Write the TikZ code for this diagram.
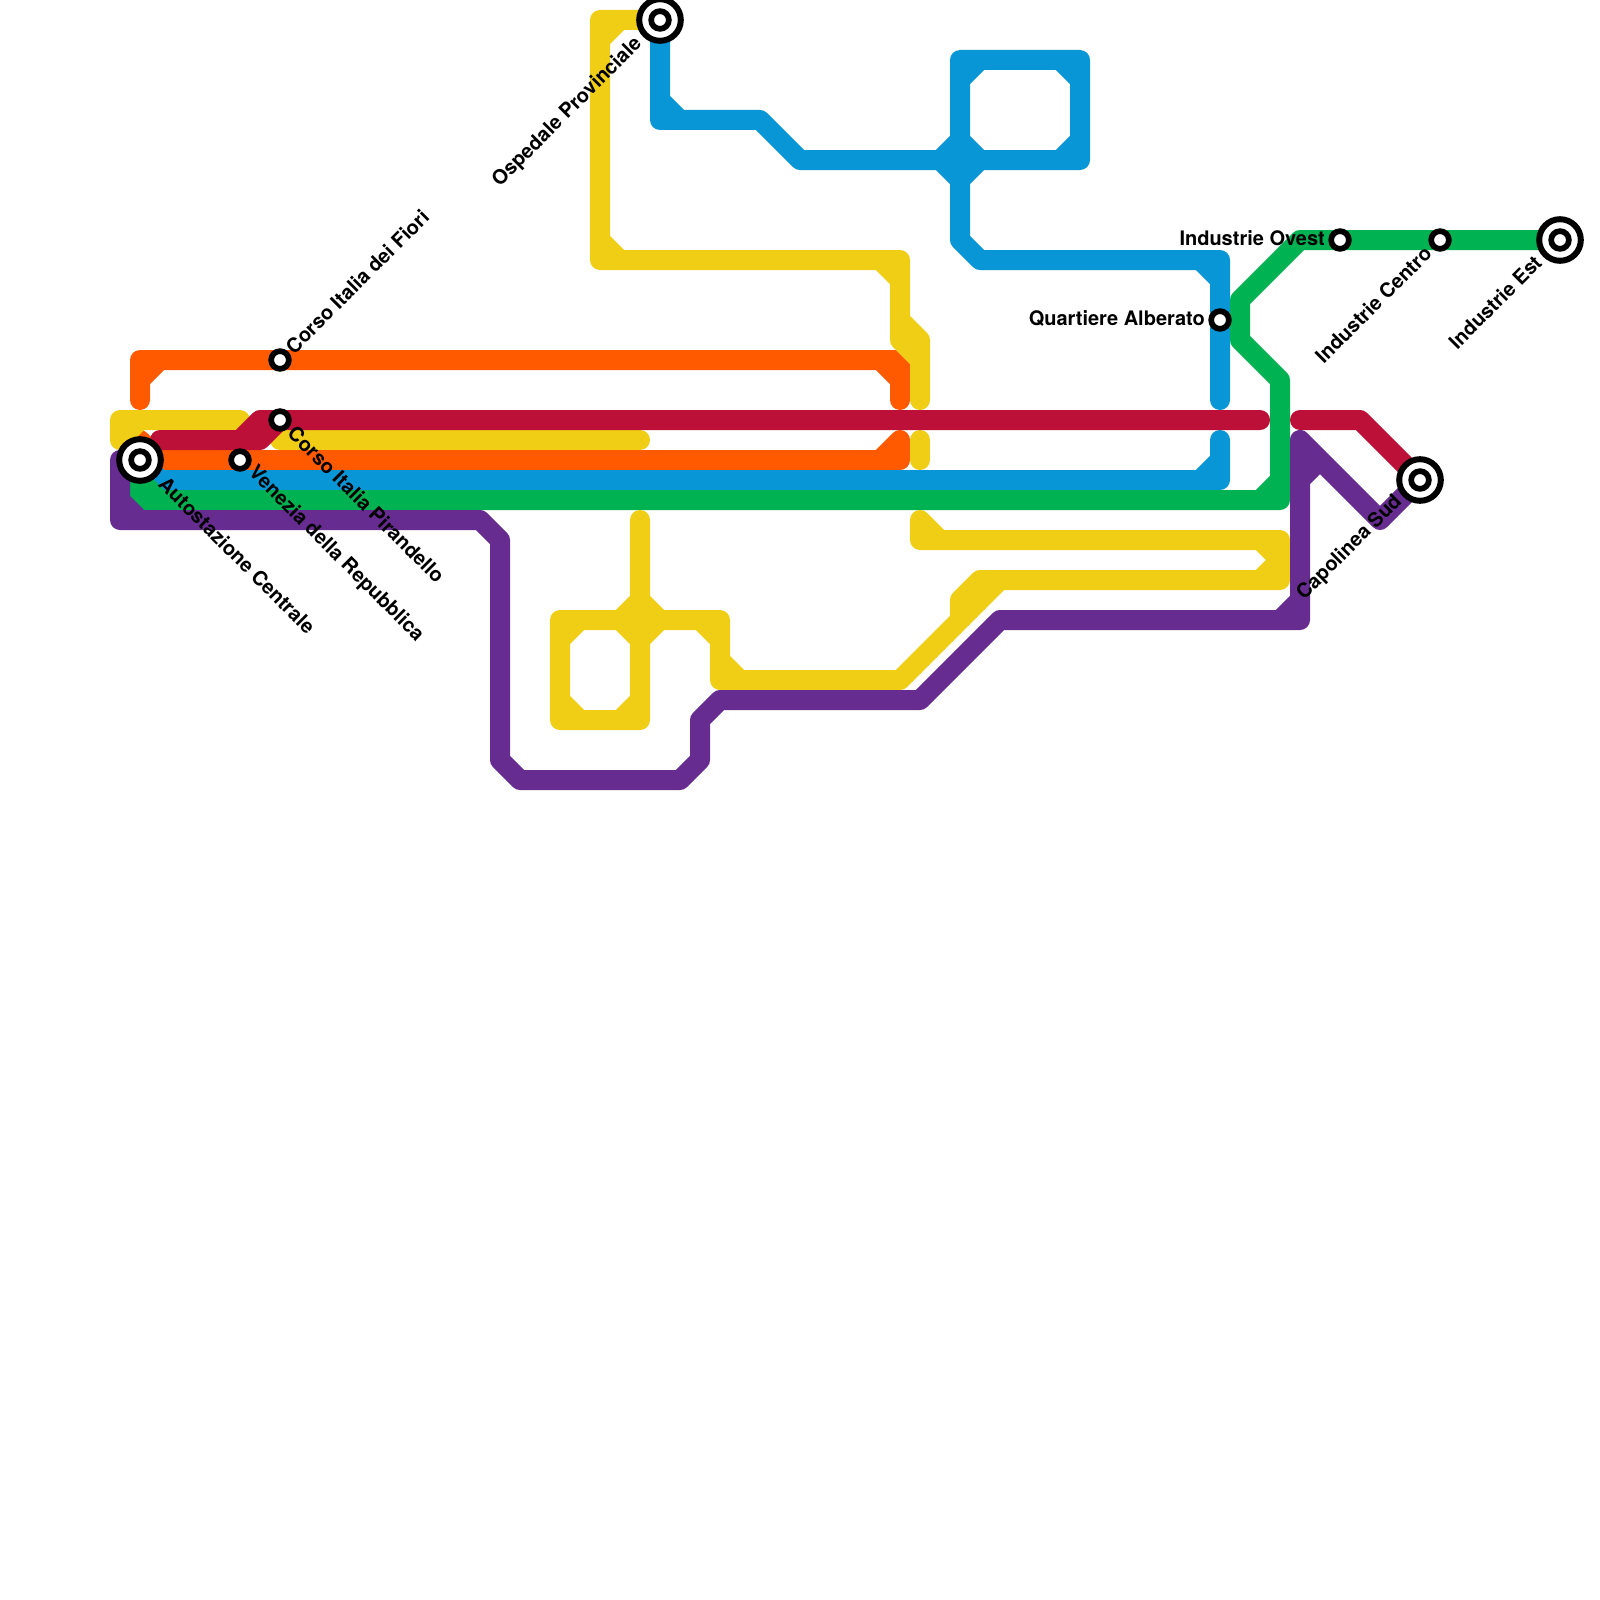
\documentclass[tikz,border=0pt]{standalone}
\usepackage{fontspec}
\setmainfont{TeX Gyre Heros}
\definecolor{myellow}{HTML}{F0CE15}
\definecolor{morange}{HTML}{FF5A00}
\definecolor{mred}{HTML}{BD1038}
\definecolor{mblue}{HTML}{0896D7}
\definecolor{mgreen}{HTML}{00B251}
\definecolor{mpurple}{HTML}{662C90}
\tikzset{
  metroline/.style={line width=20pt,line cap=round,line join=round},
  stn/.style={circle,draw=black,fill=white,line width=5.7pt,minimum size=17.7pt,inner sep=0pt},
  term/.style={circle,draw=black,fill=white,line width=6pt,minimum size=41.6pt,inner sep=0pt},
  lab/.style={font=\fontsize{20}{24}\selectfont\bfseries,text=black,inner sep=0pt}
}
\begin{document}
\begin{tikzpicture}[x=1pt,y=-1pt]
\useasboundingbox (0,0) rectangle (1600,1600);
\fill[white] (0,0) rectangle (1600,1600);
\coordinate (c-auto) at (140,460);
\coordinate (c-venezia) at (240,460);
\coordinate (c-pirandello) at (280,420);
\coordinate (c-fiori) at (280,360);
\coordinate (c-ospedale) at (660,20);
\coordinate (c-alberato) at (1220,320);
\coordinate (c-ovest) at (1340,240);
\coordinate (c-centro) at (1440,240);
\coordinate (c-est) at (1560,240);
\coordinate (c-sud) at (1420,480);
% orange
\draw[metroline,morange] (140,400)--(140,360)--(900,360)--(900,400) (160,360)--(140,380) (880,360)--(900,380);
\draw[metroline,morange] (900,440)--(900,460)--(140,460)--(140,440) (880,460)--(900,440) (140,440)--(160,460);
% blue
\draw[metroline,mblue] (c-ospedale)--(660,120)--(760,120)--(800,160)--(1080,160)--(1080,60)--(960,60)--(960,240)--(980,260)--(1220,260)--(1220,400)
  (660,100)--(680,120) (1060,160)--(1080,140) (1080,80)--(1060,60) (980,60)--(960,80)
  (940,160)--(960,140)--(980,160)--(960,180)--cycle (1200,260)--(1220,280);
\draw[metroline,mblue] (c-auto)--(160,480)--(1220,480)--(1220,440) (1200,480)--(1220,460);
% green
\draw[metroline,mgreen] (c-est)--(1300,240)--(1240,300)--(1240,340)--(1280,380)--(1280,500)--(140,500)--(140,480)
  (1260,500)--(1280,480) (140,480)--(160,500);
% yellow
\draw[metroline,myellow] (c-ospedale)--(600,20)--(600,260)--(900,260)--(900,340)--(920,360)--(920,400)
  (620,20)--(600,40) (600,240)--(620,260) (880,260)--(900,280) (900,320)--(920,340)--(920,360);
\draw[metroline,myellow] (920,440)--(920,460);
\draw[metroline,myellow] (920,520)--(920,540)--(1280,540)--(1280,580)--(980,580)--(960,600)--(960,620)--(900,680)--(720,680)--(720,620)--(560,620)--(560,720)--(640,720)--(640,520)
  (920,520)--(940,540) (1260,540)--(1280,560)--(1260,580) (1000,580)--(960,620) (740,680)--(720,660) (720,640)--(700,620)
  (580,620)--(560,640) (560,700)--(580,720) (620,720)--(640,700) (620,620)--(640,600)--(660,620)--(640,640)--cycle;
\draw[metroline,myellow] (240,420)--(120,420)--(120,440) (120,440)--(140,420);
\draw[metroline,myellow] (280,440)--(640,440);
% red
\draw[metroline,mred] (160,440)--(260,440)--(280,420)--(1260,420) (240,440)--(260,420)--(280,420);
\draw[metroline,mred] (1300,420)--(1360,420)--(c-sud);
% purple
\draw[metroline,mpurple] (c-auto)--(120,460)--(120,520)--(480,520)--(500,540)--(500,760)--(520,780)--(680,780)--(700,760)--(700,720)--(720,700)--(920,700)--(1000,620)--(1300,620)--(1300,440)--(1380,520)--(c-sud)
  (120,500)--(140,520) (1280,620)--(1300,600) (1300,480)--(1320,460);
% stations
\node[term] (t-auto) at (c-auto) {};
\node[stn] (auto) at (c-auto) {};
\node[term] (t-ospedale) at (c-ospedale) {};
\node[stn] (ospedale) at (c-ospedale) {};
\node[term] (t-est) at (c-est) {};
\node[stn] (est) at (c-est) {};
\node[term] (t-sud) at (c-sud) {};
\node[stn] (sud) at (c-sud) {};
\node[stn] (venezia) at (c-venezia) {};
\node[stn] (pirandello) at (c-pirandello) {};
\node[stn] (fiori) at (c-fiori) {};
\node[stn] (alberato) at (c-alberato) {};
\node[stn] (ovest) at (c-ovest) {};
\node[stn] (centro) at (c-centro) {};
% labels
\node[lab,anchor=west,rotate=-45] (l-auto) at ([shift={(22.5,20.5)}]c-auto) {Autostazione Centrale};
\node[lab,anchor=west,rotate=-45] (l-venezia) at ([shift={(11.5,10)}]c-venezia) {Venezia della Repubblica};
\node[lab,anchor=west,rotate=-45] (l-pirandello) at ([shift={(11.5,9.5)}]c-pirandello) {Corso Italia Pirandello};
\node[lab,anchor=west,rotate=45] (l-fiori) at ([shift={(9,-10)}]c-fiori) {Corso Italia dei Fiori};
\node[lab,anchor=east,rotate=45] (l-ospedale) at ([shift={(-21,21)}]c-ospedale) {Ospedale Provinciale};
\node[lab,anchor=east] (l-alberato) at ([shift={(-15,-1.5)}]c-alberato) {Quartiere Alberato};
\node[lab,anchor=east] (l-ovest) at ([shift={(-15,-2)}]c-ovest) {Industrie Ovest};
\node[lab,anchor=east,rotate=45] (l-centro) at ([shift={(-12,10)}]c-centro) {Industrie Centro};
\node[lab,anchor=east,rotate=45] (l-est) at ([shift={(-22,19)}]c-est) {Industrie Est};
\node[lab,anchor=east,rotate=45] (l-sud) at ([shift={(-21,18.5)}]c-sud) {Capolinea Sud};
\end{tikzpicture}
\end{document}
